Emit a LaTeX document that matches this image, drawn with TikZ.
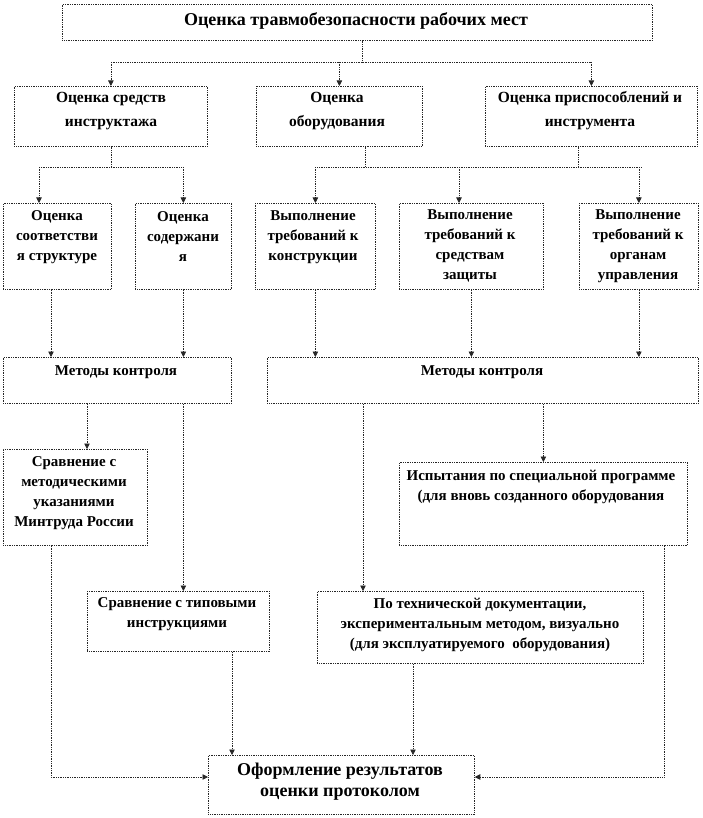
\documentclass[tikz,border=0pt]{standalone}
\usepackage{fontspec}
\setmainfont{Liberation Serif}
\usetikzlibrary{arrows.meta,calc}
\begin{document}
\begin{tikzpicture}[x=1pt,y=-1pt,
  box/.style={draw=black!85, densely dotted, line width=0.75pt, fill=white, inner sep=0pt, anchor=north west},
  txt/.style={align=center, inner sep=0pt, font=\fontsize{15}{20}\selectfont\bfseries},
  ln/.style={draw=black!85, densely dotted, line width=0.75pt},
  arr/.style={ln, -{Triangle[length=5.5pt,width=5.5pt]}}]
\path[use as bounding box] (0,0) rectangle (702,818);
% boxes
\node[box, minimum width=590, minimum height=36] (top) at (62,4) {};
\node[box, minimum width=193, minimum height=60] (A) at (14,86) {};
\node[box, minimum width=166, minimum height=60] (B) at (256,86) {};
\node[box, minimum width=212, minimum height=60] (C) at (485,86) {};
\node[box, minimum width=108, minimum height=86] (D) at (3,203) {};
\node[box, minimum width=96, minimum height=86] (E) at (135,203) {};
\node[box, minimum width=120, minimum height=86] (F) at (255,203) {};
\node[box, minimum width=144, minimum height=86] (G) at (399,203) {};
\node[box, minimum width=119, minimum height=86] (H) at (579,203) {};
\node[box, minimum width=228, minimum height=46] (LM) at (3,357) {};
\node[box, minimum width=431, minimum height=46] (RM) at (267,357) {};
\node[box, minimum width=144, minimum height=96] (I) at (3,449) {};
\node[box, minimum width=288, minimum height=83] (K) at (399,462) {};
\node[box, minimum width=182, minimum height=60] (J) at (87,591) {};
\node[box, minimum width=326, minimum height=72] (L) at (317,591) {};
\node[box, minimum width=266, minimum height=59] (M) at (208,755) {};
% texts
\node[txt, font=\fontsize{18}{20}\selectfont\bfseries] (tTop) at (356,21) {Оценка травмобезопасности рабочих мест};
\node[txt, font=\fontsize{15.5}{20}\selectfont\bfseries] (tA) at (111,111) {Оценка средств\\[4pt]инструктажа};
\node[txt, font=\fontsize{15.5}{20}\selectfont\bfseries] (tB) at (337,111) {Оценка\\[4pt]оборудования};
\node[txt, font=\fontsize{15.5}{20}\selectfont\bfseries] (tC) at (590,111) {Оценка приспособлений и\\[4pt]инструмента};
\node[txt] (tD) at (57,237) {Оценка\\соответстви\\я структуре};
\node[txt] (tE) at (183,237) {Оценка\\содержани\\я};
\node[txt] (tF) at (313,237) {Выполнение\\требований к\\конструкции};
\node[txt] (tG) at (470,246) {Выполнение\\требований к\\средствам\\защиты};
\node[txt] (tH) at (638,246) {Выполнение\\требований к\\органам\\управления};
\node[txt] (tLM) at (116,372) {Методы контроля};
\node[txt] (tRM) at (482,372) {Методы контроля};
\node[txt] (tI) at (74,493) {Сравнение с\\методическими\\указаниями\\Минтруда России};
\node[txt] (tK) at (541,487) {Испытания по специальной программе\\(для вновь созданного оборудования};
\node[txt] (tJ) at (177,614) {Сравнение с типовыми\\инструкциями};
\node[txt] (tL) at (480,625) {По технической документации,\\экспериментальным методом, визуально\\(для эксплуатируемого\ \ оборудования)};
\node[txt, font=\fontsize{18}{21}\selectfont\bfseries] (tM) at (340,782) {Оформление результатов\\оценки протоколом};
% connectors level 1
\coordinate (j1) at (362,62);
\draw[ln] (top.south -| j1) -- (j1);
\draw[ln] (A.north |- j1) -- (C.north |- j1);
\draw[arr] (A.north |- j1) -- (A.north);
\draw[arr] (B.north |- j1) -- (B.north);
\draw[arr] (C.north |- j1) -- (C.north);
% level 2
\coordinate (h2) at (0,167);
\coordinate (dIn) at ([xshift=36]D.north west);
\draw[ln] (A.south) -- (A.south |- h2);
\draw[ln] (dIn |- h2) -- (E.north |- h2);
\draw[arr] (dIn |- h2) -- (dIn);
\draw[arr] (E.north |- h2) -- (E.north);
\coordinate (bOut) at ([xshift=109]B.south west);
\coordinate (cOut) at ([xshift=93]C.south west);
\coordinate (gIn) at ([xshift=60]G.north west);
\draw[ln] (bOut) -- (bOut |- h2);
\draw[ln] (cOut) -- (cOut |- h2);
\draw[ln] (F.north |- h2) -- ([xshift=3]H.north |- h2);
\draw[arr] (F.north |- h2) -- (F.north);
\draw[arr] (gIn |- h2) -- (gIn);
\draw[arr] (H.north |- h2) -- (H.north);
% level 3
\coordinate (dOut) at ([xshift=48]D.south west);
\draw[arr] (dOut) -- (dOut |- LM.north);
\draw[arr] (E.south) -- (E.south |- LM.north);
\draw[arr] (F.south) -- (F.south |- RM.north);
\draw[arr] (G.south) -- (G.south |- RM.north);
\draw[arr] (H.south) -- (H.south |- RM.north);
% level 4
\coordinate (iIn) at ([xshift=84]I.north west);
\coordinate (lIn) at ([xshift=46]L.north west);
\draw[arr] (iIn |- LM.south) -- (iIn);
\draw[arr] (E.south |- LM.south) -- (E.south |- J.north);
\draw[arr] (lIn |- RM.south) -- (lIn);
\draw[arr] (K.north |- RM.south) -- (K.north);
% level 5
\coordinate (h5) at (0,777);
\coordinate (iOut) at ([xshift=48]I.south west);
\coordinate (kOut) at ([xshift=265]K.south west);
\coordinate (jOut) at ([xshift=145]J.south west);
\coordinate (lOut) at ([xshift=96]L.south west);
\draw[arr] (iOut) -- (iOut |- h5) -- (M.west |- h5);
\draw[arr] (kOut) -- (kOut |- h5) -- (M.east |- h5);
\draw[arr] (jOut) -- (jOut |- M.north);
\draw[arr] (lOut) -- (lOut |- M.north);
\end{tikzpicture}
\end{document}
